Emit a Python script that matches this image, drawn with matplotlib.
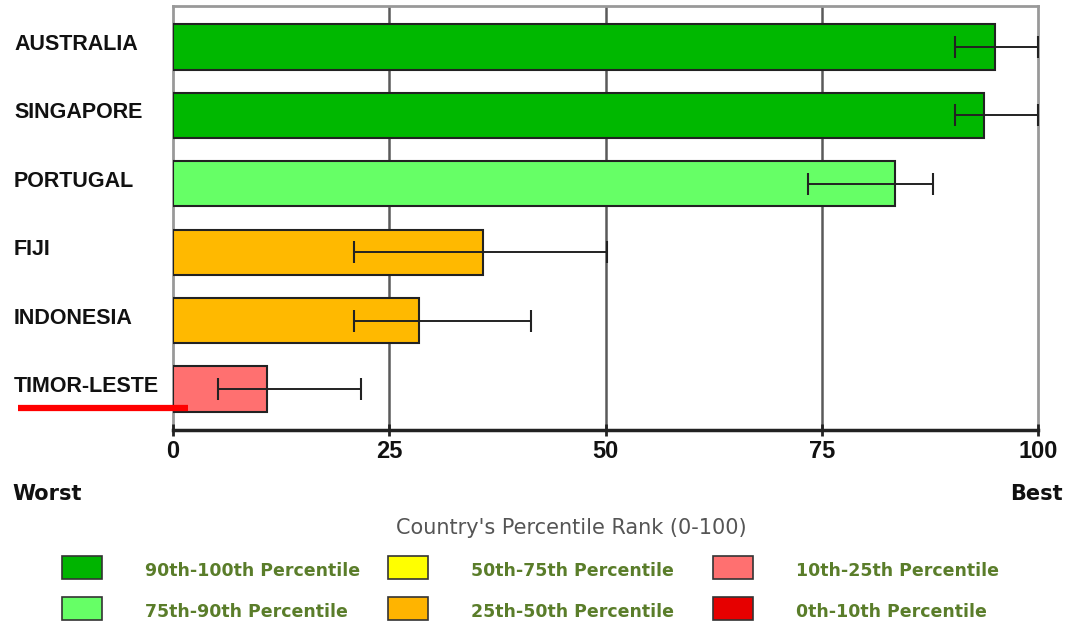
import matplotlib

matplotlib.use("Agg")
import matplotlib.pyplot as plt
import matplotlib.transforms as mtransforms
from matplotlib.lines import Line2D
from matplotlib.patches import Rectangle

# ---- data ----
countries = ["AUSTRALIA", "SINGAPORE", "PORTUGAL", "FIJI", "INDONESIA", "TIMOR-LESTE"]
rank = [95.0, 93.8, 83.5, 35.8, 28.4, 10.9]
err_low = [90.4, 90.4, 73.4, 20.9, 20.9, 5.2]
err_high = [100.0, 100.0, 87.9, 50.2, 41.4, 21.7]
bar_colors = ["#00b800", "#00b800", "#66ff66", "#ffb900", "#ffb900", "#ff7070"]
xticks = [0, 25, 50, 75, 100]

legend_labels = [
    "90th-100th Percentile", "75th-90th Percentile",
    "50th-75th Percentile", "25th-50th Percentile",
    "10th-25th Percentile", "0th-10th Percentile",
]
legend_colors = ["#00b400", "#66ff66", "#ffff00", "#ffb400", "#ff7070", "#e60000"]

W, H = 1066, 627
fig = plt.figure(figsize=(W / 100, H / 100), dpi=100)
fig.patch.set_facecolor("white")
ax = fig.add_axes([173 / W, 1 - 430 / H, (1038 - 173) / W, (430 - 6) / H])

ypos = list(range(len(countries)))
ax.barh(ypos, rank, height=0.66, color=bar_colors, edgecolor="#222222",
        linewidth=1.5, zorder=3)
xerr = [[r - lo for r, lo in zip(rank, err_low)],
        [hi - r for r, hi in zip(rank, err_high)]]
ax.errorbar(rank, ypos, xerr=xerr, fmt="none", ecolor="#222222",
            elinewidth=1.4, capsize=8, capthick=1.5, zorder=4)

ax.set_xlim(0, 100)
ax.set_ylim(len(countries) - 0.4, -0.6)
ax.set_xticks(xticks)
ax.set_xticklabels([str(t) for t in xticks], fontsize=17, fontweight="bold",
                   family="Liberation Sans", color="#111111")
ax.set_yticks(ypos)
ax.set_yticklabels([])
ax.tick_params(axis="y", length=0)
ax.tick_params(axis="x", direction="inout", length=9, width=2, color="#222222", pad=3)

# country names, left aligned at the figure edge, a bit above bar centre
name_tf = mtransforms.blended_transform_factory(fig.transFigure, ax.transData) \
    + mtransforms.ScaledTranslation(0, 2.5 / 100, fig.dpi_scale_trans)
for y, name in zip(ypos, countries):
    ax.text(14 / W, y, name, transform=name_tf, fontsize=15.5, fontweight="bold",
            family="Liberation Sans", color="#111111", ha="left", va="center",
            clip_on=False)

for x in xticks[1:-1]:
    ax.axvline(x, color="#5a5a5a", linewidth=1.8, zorder=1)
for side in ["top", "right", "left"]:
    ax.spines[side].set_color("#999999")
    ax.spines[side].set_linewidth(2)
ax.spines["bottom"].set_color("#222222")
ax.spines["bottom"].set_linewidth(2.5)
ax.set_axisbelow(False)

# red underline highlight
fig.add_artist(Line2D([18 / W, 188 / W], [1 - 408 / H, 1 - 408 / H],
                      color="#ff0000", linewidth=4.5, solid_capstyle="butt"))

# ---- captions ----
fig.text(12 / W, 1 - 494 / H, "Worst", fontsize=15, fontweight="bold",
         color="#111111", va="center", ha="left")
fig.text(1063 / W, 1 - 494 / H, "Best", fontsize=15, fontweight="bold",
         color="#111111", va="center", ha="right")
fig.text(571 / W, 1 - 528 / H, "Country's Percentile Rank (0-100)", fontsize=15,
         color="#555555", va="center", ha="center")

# ---- legend ----
col_x = [62, 388, 713]
row_y = [567, 608]
for i, (lab, c) in enumerate(zip(legend_labels, legend_colors)):
    cx = col_x[i // 2]
    cy = row_y[i % 2]
    fig.add_artist(Rectangle((cx / W, 1 - (cy + 11.5) / H), 40 / W, 23 / H,
                             facecolor=c, edgecolor="#333333", linewidth=1.2,
                             transform=fig.transFigure))
    fig.text((cx + 83) / W, 1 - (cy + 4) / H, lab, fontsize=12.5, fontweight="bold",
             color="#5a7d2a", va="center", ha="left")

fig.savefig("out.png", dpi=100)
